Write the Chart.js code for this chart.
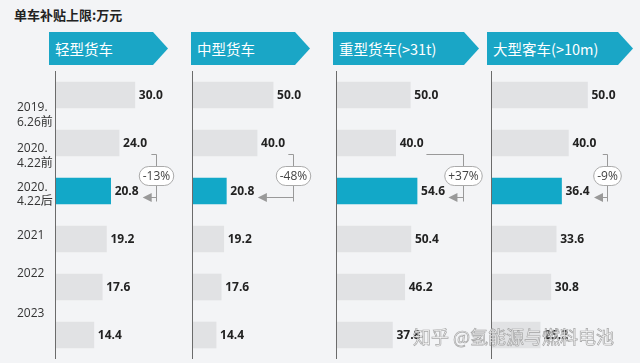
<!DOCTYPE html>
<html>
<head>
<meta charset="utf-8">
<script src="https://cdn.jsdelivr.net/npm/chart.js@4/dist/chart.umd.min.js"></script>
<style>
  body { margin: 0; background: #f3f4f6; font-family: "Open Sans", "Noto Sans CJK SC", sans-serif; }
  #wrap { position: relative; width: 640px; height: 363px; overflow: hidden; background: #f3f4f6; }
  #title { position: absolute; left: 14px; top: 5px; font-size: 13px; font-weight: bold; color: #222; line-height: 20px; font-family: "Noto Sans CJK SC", sans-serif; }
  .head {
    position: absolute; top: 32px; height: 33px; background: #1aa6c6; color: #fff;
    font-family: "Noto Sans CJK SC", sans-serif; font-size: 14.5px; line-height: 33px;
    padding-left: 6px; box-sizing: border-box; white-space: nowrap;
    clip-path: polygon(0 0, calc(100% - 15px) 0, 100% 50%, calc(100% - 15px) 100%, 0 100%);
  }
  .panel { position: absolute; top: 71px; }
  #mark {
    position: absolute; left: 413px; top: 325px; font-size: 18px; line-height: 22px;
    font-family: "Noto Sans CJK SC", sans-serif; color: rgba(255,255,255,0.85);
    -webkit-text-stroke: 0.7px rgba(110,110,110,0.6); white-space: nowrap;
  }
</style>
</head>
<body>
<div id="wrap">
  <div id="title">单车补贴上限:万元</div>
  <div class="head" style="left:49px;width:119px">轻型货车</div>
  <div class="head" style="left:191px;width:119px">中型货车</div>
  <div class="head" style="left:333px;width:146px">重型货车(&gt;31t)</div>
  <div class="head" style="left:487px;width:146px">大型客车(&gt;10m)</div>
  <canvas id="c1" class="panel" style="left:0px" width="190" height="288"></canvas>
  <canvas id="c2" class="panel" style="left:192px" width="142" height="288"></canvas>
  <canvas id="c3" class="panel" style="left:336px" width="152" height="288"></canvas>
  <canvas id="c4" class="panel" style="left:491px" width="149" height="288"></canvas>
  <div id="mark">知乎 @氢能源与燃料电池</div>
</div>
<script>
const categories = ["2019.6.26前", "2020.4.22前", "2020.4.22后", "2021", "2022", "2023"];
const rowLabels = [["2019.", "6.26前"], ["2020.", "4.22前"], ["2020.", "4.22后"], ["2021"], ["2022"], ["2023"]];
const lightTruck = [30.0, 24.0, 20.8, 19.2, 17.6, 14.4];
const mediumTruck = [50.0, 40.0, 20.8, 19.2, 17.6, 14.4];
const heavyTruck = [50.0, 40.0, 54.6, 50.4, 46.2, 37.8];
const largeBus = [50.0, 40.0, 36.4, 33.6, 30.8, 25.2];
const changes = ["-13%", "-48%", "+37%", "-9%"];
const highlightRow = 2;

const GRAY = "#e1e2e4";
const TEAL = "#12a8c8";

// row labels in the reference sit a bit off the bars
const labelPos = [0.42, 1.27, 2.08, 2.92, 3.73, 4.56];

const valueLabels = {
    id: "valueLabels",
    afterDatasetsDraw(chart) {
        const ctx = chart.ctx;
        const ds = chart.data.datasets[0];
        const area = chart.chartArea;
        ctx.save();
        // axis line
        const x0 = Math.round(chart.scales.x.getPixelForValue(0)) - 0.5;
        ctx.strokeStyle = "#6b6b6b";
        ctx.lineWidth = 1;
        ctx.beginPath();
        ctx.moveTo(x0, area.top - 1);
        ctx.lineTo(x0, area.bottom);
        ctx.stroke();

        ctx.font = "bold 12px 'Open Sans'";
        ctx.fillStyle = "#222";
        ctx.textBaseline = "middle";
        chart.getDatasetMeta(0).data.forEach((bar, i) => {
            ctx.fillText(ds.data[i].toFixed(1), bar.x + 4, bar.y + 1);
        });
        ctx.restore();
    }
};

const bracket = {
    id: "bracket",
    afterDatasetsDraw(chart, args, opts) {
        const { ctx, scales: { x, y } } = chart;
        const bx = Math.round(x.getPixelForValue(opts.at)) + 0.5;
        const top = Math.round(y.getPixelForValue(1) + 11) + 0.5;
        const bottom = Math.round(y.getPixelForValue(2) + 6) + 0.5;
        const ax = x.getPixelForValue(opts.arrowTo);
        ctx.save();
        ctx.strokeStyle = "#999";
        ctx.lineWidth = 1;
        ctx.beginPath();
        ctx.moveTo(x.getPixelForValue(opts.topFrom), top);
        ctx.lineTo(bx, top);
        ctx.lineTo(bx, bottom + 4);
        ctx.moveTo(bx, bottom);
        ctx.lineTo(ax + 8, bottom);
        ctx.stroke();
        ctx.fillStyle = "#999";
        ctx.beginPath();
        ctx.moveTo(ax, bottom);
        ctx.lineTo(ax + 9, bottom - 4.5);
        ctx.lineTo(ax + 9, bottom + 4.5);
        ctx.closePath();
        ctx.fill();

        // percentage pill
        ctx.font = "12px 'Open Sans'";
        const w = ctx.measureText(opts.text).width + 7;
        const h = 19;
        const cy = (top + bottom) / 2;
        ctx.beginPath();
        ctx.roundRect(bx - w / 2, cy - h / 2, w, h, h / 2);
        ctx.fillStyle = "#fff";
        ctx.fill();
        ctx.strokeStyle = "#aaa";
        ctx.stroke();
        ctx.fillStyle = "#444";
        ctx.textAlign = "center";
        ctx.textBaseline = "middle";
        ctx.fillText(opts.text, bx, cy + 1);
        ctx.restore();
    }
};

function makeChart(id, values, max, note, withLabels) {
    const scales = {
        x: { display: false, min: 0, max: max },
        y: {
            display: true,
            ticks: { display: false },
            grid: { display: false },
            border: { display: false },
            afterFit: s => { s.width = 1; s.paddingTop = 0; s.paddingBottom = 0; }
        }
    };
    if (withLabels) {
        scales.y2 = {
            type: "linear",
            position: "left",
            weight: 1,
            offset: false,
            reverse: true,
            min: -0.5,
            max: 5.5,
            afterBuildTicks: s => { s.ticks = labelPos.map(v => ({ value: v })); },
            afterFit: s => { s.width = 38; s.paddingTop = 0; s.paddingBottom = 0; },
            ticks: {
                callback: (v, i) => rowLabels[i],
                color: "#333",
                crossAlign: "far",
                font: { size: 12, family: "'Open Sans', 'Noto Sans CJK SC'", lineHeight: 1.2 }
            },
            grid: { display: false },
            border: { display: false }
        };
    }

    return new Chart(document.getElementById(id), {
        type: "bar",
        data: {
            labels: categories,
            datasets: [{
                data: values,
                backgroundColor: values.map((v, i) => i === highlightRow ? TEAL : GRAY),
                barThickness: 26
            }]
        },
        options: {
            indexAxis: "y",
            responsive: false,
            animation: false,
            layout: { padding: { left: withLabels ? 17 : 0, top: 0, bottom: 0, right: 0 } },
            scales,
            plugins: {
                legend: { display: false },
                tooltip: { enabled: false },
                bracket: note
            }
        },
        plugins: [valueLabels, bracket]
    });
}

makeChart("c1", lightTruck, 51, { at: 38, topFrom: 36.3, arrowTo: 33, text: changes[0] }, true);
makeChart("c2", mediumTruck, 88, { at: 62.5, topFrom: 59.5, arrowTo: 40.5, text: changes[1] }, false);
makeChart("c3", heavyTruck, 103, { at: 86, topFrom: 61, arrowTo: 76, text: changes[2] }, false);
makeChart("c4", largeBus, 77.5, { at: 60, topFrom: 58, arrowTo: 53.4, text: changes[3] }, false);
</script>
</body>
</html>
